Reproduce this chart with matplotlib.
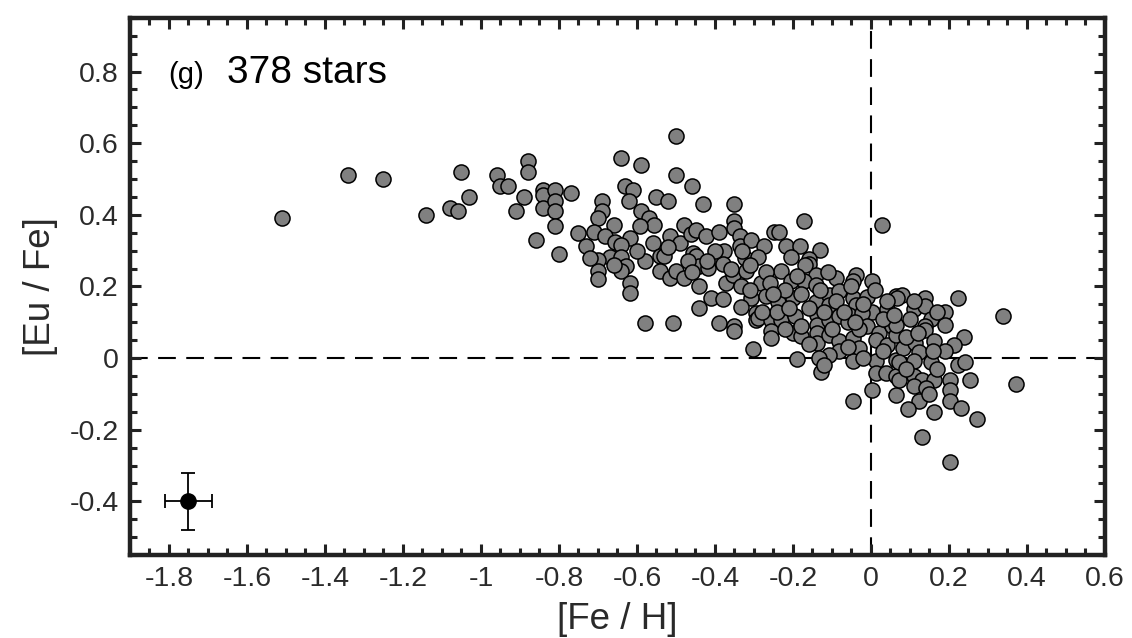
import matplotlib
matplotlib.use("Agg")
import matplotlib.pyplot as plt
from matplotlib.ticker import MultipleLocator

plt.rcParams['font.family'] = ['Liberation Sans', 'DejaVu Sans']

# [Fe/H], [Eu/Fe] (dense core is partly hidden, so estimated)
fe_h = [
    # sparse metal-poor end
    -1.51, -1.34, -1.25, -1.14, -1.08, -1.06, -1.05, -1.03, -0.96, -0.95,
    -0.93, -0.88, -0.88, -0.89, -0.91, -0.84, -0.84, -0.84, -0.81, -0.81,
    -0.81, -0.81, -0.77, -0.86, -0.80, -0.75,
    # -0.8 .. -0.3
    -0.50, -0.64, -0.59, -0.50, -0.46, -0.63, -0.61, -0.55, -0.52, -0.43,
    -0.35, -0.69, -0.62, -0.69, -0.70, -0.59, -0.57, -0.556, -0.593, -0.66,
    -0.71, -0.683, -0.657, -0.619, -0.64, -0.731, -0.67, -0.699, -0.64, -0.627,
    -0.699, -0.699, -0.64, -0.619, -0.619, -0.58, -0.558, -0.542, -0.531, -0.542,
    -0.516, -0.489, -0.516, -0.499, -0.48, -0.48, -0.461, -0.448, -0.422, -0.39,
    -0.457, -0.448, -0.44, -0.418, -0.399, -0.376, -0.38, -0.44, -0.409, -0.44,
    -0.38, -0.371, -0.354, -0.35, -0.35, -0.337, -0.337, -0.307, -0.324, -0.32,
    -0.333, -0.307, -0.333, -0.294,
    -0.58, -0.508, -0.39, -0.35, -0.35, -0.294, -0.303,
    # -0.35 .. 0.05
    -0.171, 0.028, -0.248, -0.236, -0.274, -0.219, -0.181, -0.13, -0.158, -0.158,
    -0.29, -0.205, -0.23, -0.141, -0.09, -0.039, -0.047, 0.002, -0.205, -0.171,
    -0.282, -0.141,
    -0.27, -0.239, -0.201, -0.141, -0.107, -0.107, -0.081, -0.047, -0.039, 0.002,
    0.042, 0.064,
    -0.29, -0.256, -0.23, -0.196, -0.139, -0.139, -0.107, -0.081, -0.056, -0.022,
    -0.009, 0.021, 0.055,
    -0.256, -0.256, -0.201, -0.179, -0.139, -0.139, -0.107, -0.081, -0.047, -0.03,
    0.013, 0.042, 0.064, -0.081, -0.107,
    -0.19, -0.132, -0.128, -0.12, -0.047, 0.013, 0.013, 0.038, 0.064, 0.064,
    0.002, -0.047, 0.064,
    # metal-rich end
    0.079, 0.068, 0.111, 0.139, 0.139, 0.222, 0.19, 0.153, 0.339, 0.064,
    0.139, 0.19,
    0.139, 0.162, 0.239, 0.213, 0.081, 0.113, 0.124, 0.072, 0.111, 0.154,
    0.222, 0.241, 0.072, 0.111, 0.132, 0.162, 0.203, 0.253, 0.371, 0.111,
    0.141, 0.203, 0.122, 0.094, 0.162, 0.203, 0.23, 0.271, 0.13, 0.203,
    # partly hidden points in the crowded core
    -0.33, -0.31, -0.27, -0.26, -0.31, -0.22, -0.18, -0.16, -0.12, -0.06,
    -0.03, -0.18, -0.22, -0.16, -0.06, 0.03, -0.02, 0.09, 0.10, 0.17,
    0.09, 0.17, -0.40, -0.42, -0.47, -0.36, -0.52, -0.60, -0.66, -0.72,
    -0.46, -0.24, -0.09, -0.01, 0.03, 0.12, 0.19, 0.15, -0.05, -0.11,
    -0.07, -0.02, 0.04, -0.13, -0.10, -0.25, -0.21, -0.17, -0.04, 0.01,
    -0.28, -0.19, 0.06, 0.16, 0.11,
]
eu_fe = [
    0.39, 0.51, 0.50, 0.40, 0.42, 0.41, 0.52, 0.45, 0.51, 0.48,
    0.48, 0.55, 0.52, 0.45, 0.41, 0.47, 0.456, 0.42, 0.47, 0.44,
    0.41, 0.37, 0.46, 0.33, 0.29, 0.35,
    0.62, 0.56, 0.54, 0.51, 0.48, 0.48, 0.47, 0.45, 0.44, 0.43,
    0.43, 0.44, 0.44, 0.41, 0.39, 0.41, 0.39, 0.373, 0.37, 0.373,
    0.351, 0.342, 0.323, 0.334, 0.317, 0.312, 0.282, 0.273, 0.282, 0.256,
    0.242, 0.221, 0.242, 0.211, 0.183, 0.272, 0.321, 0.284, 0.284, 0.242,
    0.34, 0.321, 0.224, 0.242, 0.224, 0.373, 0.347, 0.359, 0.34, 0.351,
    0.294, 0.284, 0.256, 0.252, 0.284, 0.298, 0.264, 0.202, 0.168, 0.14,
    0.165, 0.211, 0.233, 0.382, 0.363, 0.342, 0.312, 0.331, 0.28, 0.242,
    0.202, 0.168, 0.144, 0.126,
    0.098, 0.098, 0.098, 0.089, 0.077, 0.107, 0.026,
    0.382, 0.371, 0.352, 0.352, 0.312, 0.312, 0.312, 0.303, 0.277, 0.263,
    0.282, 0.282, 0.242, 0.233, 0.224, 0.233, 0.214, 0.214, 0.214, 0.214,
    0.21, 0.205,
    0.172, 0.158, 0.168, 0.158, 0.177, 0.149, 0.186, 0.168, 0.149, 0.13,
    0.137, 0.172,
    0.112, 0.107, 0.107, 0.118, 0.121, 0.093, 0.107, 0.118, 0.121, 0.126,
    0.089, 0.07, 0.089,
    0.075, 0.056, 0.07, 0.061, 0.07, 0.042, 0.065, 0.047, 0.056, 0.028,
    0.051, 0.037, 0.065, 0.019, 0.01,
    -0.002, 0.0, -0.04, -0.018, -0.009, -0.009, -0.042, -0.042, -0.004, -0.051,
    -0.088, -0.121, -0.102,
    0.177, 0.168, 0.138, 0.168, 0.146, 0.168, 0.128, 0.109, 0.118, 0.093,
    0.089, 0.091,
    0.079, 0.047, 0.059, 0.037, 0.028, 0.042, 0.017, -0.012, -0.009, -0.012,
    -0.018, -0.012, -0.06, -0.051, -0.062, -0.062, -0.062, -0.062, -0.072, -0.079,
    -0.084, -0.088, -0.121, -0.142, -0.151, -0.121, -0.139, -0.17, -0.22, -0.291,
    0.30, 0.26, 0.24, 0.21, 0.19, 0.19, 0.18, 0.14, 0.13, 0.10,
    0.08, 0.09, 0.08, 0.04, 0.03, 0.02, 0.00, 0.06, 0.11, 0.13,
    -0.03, -0.03, 0.30, 0.27, 0.27, 0.25, 0.31, 0.30, 0.26, 0.28,
    0.24, 0.13, 0.16, 0.17, 0.11, 0.07, 0.02, -0.10, 0.20, 0.24,
    0.13, 0.15, 0.16, 0.19, 0.08, 0.18, 0.14, 0.26, 0.10, 0.19,
    0.13, 0.23, 0.12, 0.02, 0.16,
]

# typical uncertainty shown in the lower-left corner
err_x, err_y = -1.75, -0.40
err_dx, err_dy = 0.06, 0.08

panel_tag = "(g)"
n_label = "378 stars"

fig = plt.figure(figsize=(11.32, 6.38), dpi=100)
ax = fig.add_axes([0.1148, 0.130, 0.8613, 0.842])

ax.axhline(0, color='black', lw=1.5, ls=(0, (8.5, 5)), zorder=1)
ax.axvline(0, color='black', lw=1.5, ls=(0, (8.5, 5)), zorder=1)

ax.scatter(fe_h, eu_fe, s=118, facecolor='#808080', edgecolor='black',
           linewidths=1.1, zorder=3)

ax.errorbar(err_x, err_y, xerr=err_dx, yerr=err_dy, fmt='o', color='black',
            ms=11, elinewidth=1.3, capsize=4.7, capthick=1.3, zorder=4)

ax.set_xlim(-1.9, 0.6)
ax.set_ylim(-0.55, 0.95)
ax.xaxis.set_major_locator(MultipleLocator(0.2))
ax.xaxis.set_minor_locator(MultipleLocator(0.05))
ax.yaxis.set_major_locator(MultipleLocator(0.2))
ax.yaxis.set_minor_locator(MultipleLocator(0.05))

def fmt(v, pos=None):
    s = f"{v:.1f}".rstrip('0').rstrip('.')
    if s in ("-0", "0"):
        return "0"
    return s

ax.xaxis.set_major_formatter(plt.FuncFormatter(fmt))
ax.yaxis.set_major_formatter(plt.FuncFormatter(fmt))

ax.tick_params(which='both', direction='in', top=True, right=True,
               color='#222222', labelsize=20.5, labelcolor='#2a2a2a')
ax.tick_params(which='major', length=8, width=2.2, pad=8)
ax.tick_params(which='minor', length=5, width=2.2)
for sp in ax.spines.values():
    sp.set_linewidth(3.2)
    sp.set_color('#222222')

ax.set_xlabel("[Fe / H]", fontsize=26.5, color='#2a2a2a', labelpad=7)
ax.set_ylabel("[Eu / Fe]", fontsize=26.5, color='#2a2a2a', labelpad=8)

ax.text(0.039, 0.879, panel_tag, transform=ax.transAxes, fontsize=21,
        va='baseline', ha='left')
ax.text(0.100, 0.879, n_label, transform=ax.transAxes, fontsize=28,
        va='baseline', ha='left')

fig.savefig("out.png", dpi=100)
